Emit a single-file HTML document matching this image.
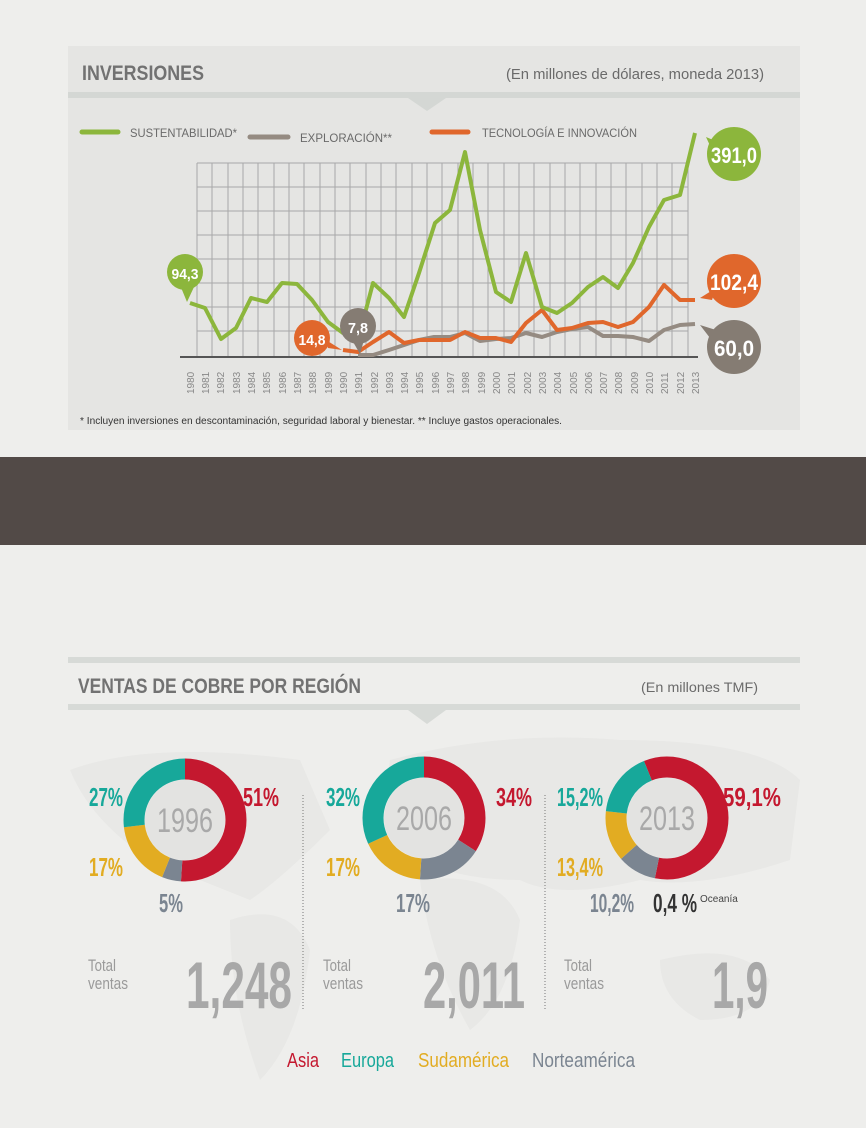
<!DOCTYPE html>
<html><head><meta charset="utf-8"><style>
html,body{margin:0;padding:0;background:#eeeeec;}
svg{display:block;font-family:"Liberation Sans",sans-serif;}
</style></head><body>
<svg width="866" height="1128" viewBox="0 0 866 1128" xmlns="http://www.w3.org/2000/svg">
<rect width="866" height="1128" fill="#eeeeec"/>
<rect x="68" y="46" width="732" height="384" fill="#e5e5e3"/>
<rect x="68" y="92" width="732" height="6" fill="#d4d7d4"/>
<polygon points="408,98 446,98 427,111" fill="#d4d7d4"/>
<text x="82" y="80" font-size="21" font-weight="bold" fill="#727272" textLength="122" lengthAdjust="spacingAndGlyphs">INVERSIONES</text>
<text x="506" y="79" font-size="15" fill="#6a6a6a" textLength="258" lengthAdjust="spacingAndGlyphs">(En millones de dólares, moneda 2013)</text>
<line x1="82" y1="132" x2="118" y2="132" stroke="#8cb63c" stroke-width="5" stroke-linecap="round"/>
<text x="130" y="137" font-size="12" fill="#6a6a6a" textLength="107" lengthAdjust="spacingAndGlyphs">SUSTENTABILIDAD*</text>
<line x1="250" y1="137" x2="288" y2="137" stroke="#958b82" stroke-width="5" stroke-linecap="round"/>
<text x="300" y="142" font-size="12" fill="#6a6a6a" textLength="92" lengthAdjust="spacingAndGlyphs">EXPLORACIÓN**</text>
<line x1="432" y1="132" x2="468" y2="132" stroke="#e0672c" stroke-width="5" stroke-linecap="round"/>
<text x="482" y="137" font-size="12" fill="#6a6a6a" textLength="155" lengthAdjust="spacingAndGlyphs">TECNOLOGÍA E INNOVACIÓN</text>
<g stroke="#a8a8a8" stroke-width="1" fill="none">
<path d="M197 163H688M197 187H688M197 211H688M197 235H688M197 259H688M197 283H688M197 307H688M197 331H688"/>
<path d="M197 163V357M212 163V357M228 163V357M243 163V357M258 163V357M274 163V357M289 163V357M304 163V357M320 163V357M335 163V357M350 163V357M366 163V357M381 163V357M396 163V357M412 163V357M427 163V357M442 163V357M458 163V357M473 163V357M488 163V357M504 163V357M519 163V357M534 163V357M550 163V357M565 163V357M580 163V357M596 163V357M611 163V357M626 163V357M642 163V357M657 163V357M672 163V357M688 163V357"/>
</g>
<line x1="180" y1="357" x2="698" y2="357" stroke="#555" stroke-width="2"/>
<g font-size="10" fill="#888">
<text transform="translate(194,394) rotate(-90)">1980</text>
<text transform="translate(209,394) rotate(-90)">1981</text>
<text transform="translate(224,394) rotate(-90)">1982</text>
<text transform="translate(240,394) rotate(-90)">1983</text>
<text transform="translate(255,394) rotate(-90)">1984</text>
<text transform="translate(270,394) rotate(-90)">1985</text>
<text transform="translate(286,394) rotate(-90)">1986</text>
<text transform="translate(301,394) rotate(-90)">1987</text>
<text transform="translate(316,394) rotate(-90)">1988</text>
<text transform="translate(332,394) rotate(-90)">1989</text>
<text transform="translate(347,394) rotate(-90)">1990</text>
<text transform="translate(362,394) rotate(-90)">1991</text>
<text transform="translate(378,394) rotate(-90)">1992</text>
<text transform="translate(393,394) rotate(-90)">1993</text>
<text transform="translate(408,394) rotate(-90)">1994</text>
<text transform="translate(423,394) rotate(-90)">1995</text>
<text transform="translate(439,394) rotate(-90)">1996</text>
<text transform="translate(454,394) rotate(-90)">1997</text>
<text transform="translate(469,394) rotate(-90)">1998</text>
<text transform="translate(485,394) rotate(-90)">1999</text>
<text transform="translate(500,394) rotate(-90)">2000</text>
<text transform="translate(515,394) rotate(-90)">2001</text>
<text transform="translate(531,394) rotate(-90)">2002</text>
<text transform="translate(546,394) rotate(-90)">2003</text>
<text transform="translate(561,394) rotate(-90)">2004</text>
<text transform="translate(577,394) rotate(-90)">2005</text>
<text transform="translate(592,394) rotate(-90)">2006</text>
<text transform="translate(607,394) rotate(-90)">2007</text>
<text transform="translate(622,394) rotate(-90)">2008</text>
<text transform="translate(638,394) rotate(-90)">2009</text>
<text transform="translate(653,394) rotate(-90)">2010</text>
<text transform="translate(668,394) rotate(-90)">2011</text>
<text transform="translate(684,394) rotate(-90)">2012</text>
<text transform="translate(699,394) rotate(-90)">2013</text>
</g>
<polyline fill="none" stroke="#958b82" stroke-width="4" stroke-linejoin="round" points="358,355 373,355 389,350 404,345 419,340 434,337 450,337 465,333 480,341 496,339 511,338 526,333 542,337 557,332 572,329 588,327 603,336 618,336 633,337 649,341 664,330 680,325 695,324"/>
<polyline fill="none" stroke="#e0672c" stroke-width="4" stroke-linejoin="round" points="343,350 358,352 373,342 389,332 404,343 419,340 434,340 450,340 465,332 480,338 496,338 511,342 526,323 542,310 557,330 572,328 588,323 603,322 618,327 633,322 649,307 664,285 680,300 695,300"/>
<polyline fill="none" stroke="#8cb63c" stroke-width="4" stroke-linejoin="round" points="190,303 205,308 221,339 236,328 251,298 267,302 282,283 297,284 312,300 328,322 343,333 358,340 373,283 389,298 404,317 419,273 435,223 450,210 465,152 480,230 496,292 511,302 526,253 542,307 557,313 572,303 588,287 603,277 618,288 633,263 649,227 664,200 680,195 695,133"/>
<g font-weight="bold" fill="#fff" text-anchor="middle">
<polygon points="706,137 712,150 718,142" fill="#8cb63c"/>
<circle cx="734" cy="154" r="27" fill="#8cb63c"/>
<text x="734" y="163" font-size="22" textLength="46" lengthAdjust="spacingAndGlyphs">391,0</text>
<polygon points="700,298 716,288 712,300" fill="#e0672c"/>
<circle cx="734" cy="281" r="27" fill="#e0672c"/>
<text x="734" y="290" font-size="22" textLength="48" lengthAdjust="spacingAndGlyphs">102,4</text>
<polygon points="700,325 716,330 710,338" fill="#857c73"/>
<circle cx="734" cy="347" r="27" fill="#857c73"/>
<text x="734" y="356" font-size="22" textLength="40" lengthAdjust="spacingAndGlyphs">60,0</text>
<polygon points="187,302 180,285 194,287" fill="#8cb63c"/>
<circle cx="185" cy="272" r="18" fill="#8cb63c"/>
<text x="185" y="279" font-size="15" textLength="27" lengthAdjust="spacingAndGlyphs">94,3</text>
<polygon points="342,350 326,340 328,348" fill="#e0672c"/>
<circle cx="312" cy="338" r="18" fill="#e0672c"/>
<text x="312" y="345" font-size="15" textLength="27" lengthAdjust="spacingAndGlyphs">14,8</text>
<polygon points="360,354 352,340 364,340" fill="#857c73"/>
<circle cx="358" cy="326" r="18" fill="#857c73"/>
<text x="358" y="333" font-size="15" textLength="20" lengthAdjust="spacingAndGlyphs">7,8</text>
</g>
<text x="80" y="424" font-size="10" fill="#333" textLength="482" lengthAdjust="spacingAndGlyphs">* Incluyen inversiones en descontaminación, seguridad laboral y bienestar. ** Incluye gastos operacionales.</text>
<rect x="0" y="457" width="866" height="88" fill="#524a47"/>
<rect x="68" y="657" width="732" height="6" fill="#d7dad7"/>
<rect x="68" y="704" width="732" height="6" fill="#d7dad7"/>
<polygon points="408,710 446,710 427,724" fill="#d7dad7"/>
<text x="78" y="693" font-size="21" font-weight="bold" fill="#727272" textLength="283" lengthAdjust="spacingAndGlyphs">VENTAS DE COBRE POR REGIÓN</text>
<text x="641" y="692" font-size="14" fill="#6a6a6a" textLength="117" lengthAdjust="spacingAndGlyphs">(En millones TMF)</text>
<g fill="#e8e8e6">
<path d="M70 770 Q150 740 300 760 L330 830 Q280 880 250 900 Q200 880 150 860 Q90 820 70 770Z"/>
<path d="M230 920 Q290 900 310 950 Q300 1040 260 1080 Q230 1000 230 920Z"/>
<path d="M390 760 Q500 730 620 740 Q760 740 800 780 L790 860 Q700 890 640 880 Q560 900 520 880 Q460 880 420 860 Q380 820 390 760Z"/>
<path d="M420 880 Q500 870 520 920 Q510 1000 470 1030 Q430 960 420 880Z"/>
<path d="M660 960 Q740 940 770 980 Q760 1020 700 1020 Q660 1000 660 960Z"/>
</g>
<g fill="none" stroke-width="21">
<g transform="translate(185,820) rotate(-90)">
<circle r="51" stroke="#c4182f" stroke-dasharray="163.4 400" stroke-dashoffset="0"/>
<circle r="51" stroke="#7b8591" stroke-dasharray="16 400" stroke-dashoffset="-163.4"/>
<circle r="51" stroke="#e2ac22" stroke-dasharray="54.5 400" stroke-dashoffset="-179.4"/>
<circle r="51" stroke="#17a89a" stroke-dasharray="86.6 400" stroke-dashoffset="-233.9"/>
</g>
<g transform="translate(424,818) rotate(-90)">
<circle r="51" stroke="#c4182f" stroke-dasharray="108.9 400" stroke-dashoffset="0"/>
<circle r="51" stroke="#7b8591" stroke-dasharray="54.5 400" stroke-dashoffset="-108.9"/>
<circle r="51" stroke="#e2ac22" stroke-dasharray="54.5 400" stroke-dashoffset="-163.4"/>
<circle r="51" stroke="#17a89a" stroke-dasharray="102.6 400" stroke-dashoffset="-217.9"/>
</g>
<g transform="translate(667,818) rotate(-112)">
<circle r="51" stroke="#c4182f" stroke-dasharray="189.6 400" stroke-dashoffset="0"/>
<circle r="51" stroke="#7b8591" stroke-dasharray="32.9 400" stroke-dashoffset="-189.6"/>
<circle r="51" stroke="#e2ac22" stroke-dasharray="42.7 400" stroke-dashoffset="-222.5"/>
<circle r="51" stroke="#17a89a" stroke-dasharray="55.3 400" stroke-dashoffset="-265.2"/>
</g>
</g>
<circle cx="185" cy="820" r="40" fill="#e3e3e1"/>
<circle cx="424" cy="818" r="40" fill="#e3e3e1"/>
<circle cx="667" cy="818" r="40" fill="#e3e3e1"/>
<g font-size="34" fill="#a9a9a9" text-anchor="middle">
<text x="185" y="832" textLength="56" lengthAdjust="spacingAndGlyphs">1996</text>
<text x="424" y="830" textLength="56" lengthAdjust="spacingAndGlyphs">2006</text>
<text x="667" y="830" textLength="56" lengthAdjust="spacingAndGlyphs">2013</text>
</g>
<g font-size="26" font-weight="bold">
<text x="89" y="806" fill="#17a89a" textLength="34" lengthAdjust="spacingAndGlyphs">27%</text>
<text x="243" y="806" fill="#c4182f" textLength="36" lengthAdjust="spacingAndGlyphs">51%</text>
<text x="89" y="876" fill="#e2ac22" textLength="34" lengthAdjust="spacingAndGlyphs">17%</text>
<text x="159" y="912" fill="#7b8591" textLength="24" lengthAdjust="spacingAndGlyphs">5%</text>
<text x="326" y="806" fill="#17a89a" textLength="34" lengthAdjust="spacingAndGlyphs">32%</text>
<text x="496" y="806" fill="#c4182f" textLength="36" lengthAdjust="spacingAndGlyphs">34%</text>
<text x="326" y="876" fill="#e2ac22" textLength="34" lengthAdjust="spacingAndGlyphs">17%</text>
<text x="396" y="912" fill="#7b8591" textLength="34" lengthAdjust="spacingAndGlyphs">17%</text>
<text x="557" y="806" fill="#17a89a" textLength="46" lengthAdjust="spacingAndGlyphs">15,2%</text>
<text x="723" y="806" fill="#c4182f" textLength="58" lengthAdjust="spacingAndGlyphs">59,1%</text>
<text x="557" y="876" fill="#e2ac22" textLength="46" lengthAdjust="spacingAndGlyphs">13,4%</text>
<text x="590" y="912" fill="#7b8591" textLength="44" lengthAdjust="spacingAndGlyphs">10,2%</text>
<text x="653" y="912" fill="#333" textLength="44" lengthAdjust="spacingAndGlyphs">0,4 %</text>
</g>
<text x="700" y="902" font-size="10" fill="#444">Oceanía</text>
<line x1="303" y1="795" x2="303" y2="1010" stroke="#777" stroke-dasharray="1 2"/>
<line x1="545" y1="795" x2="545" y2="1010" stroke="#777" stroke-dasharray="1 2"/>
<g font-size="17" fill="#9a9a9a">
<text x="88" y="971" textLength="28" lengthAdjust="spacingAndGlyphs">Total</text>
<text x="88" y="989" textLength="40" lengthAdjust="spacingAndGlyphs">ventas</text>
<text x="323" y="971" textLength="28" lengthAdjust="spacingAndGlyphs">Total</text>
<text x="323" y="989" textLength="40" lengthAdjust="spacingAndGlyphs">ventas</text>
<text x="564" y="971" textLength="28" lengthAdjust="spacingAndGlyphs">Total</text>
<text x="564" y="989" textLength="40" lengthAdjust="spacingAndGlyphs">ventas</text>
</g>
<g font-size="66" font-weight="bold" fill="#a8a8a8">
<text x="186" y="1008" textLength="106" lengthAdjust="spacingAndGlyphs">1,248</text>
<text x="423" y="1008" textLength="102" lengthAdjust="spacingAndGlyphs">2,011</text>
<text x="712" y="1008" textLength="56" lengthAdjust="spacingAndGlyphs">1,9</text>
</g>
<g font-size="20">
<text x="287" y="1067" fill="#c4182f" textLength="32" lengthAdjust="spacingAndGlyphs">Asia</text>
<text x="341" y="1067" fill="#17a89a" textLength="53" lengthAdjust="spacingAndGlyphs">Europa</text>
<text x="418" y="1067" fill="#e2ac22" textLength="91" lengthAdjust="spacingAndGlyphs">Sudamérica</text>
<text x="532" y="1067" fill="#7b8591" textLength="103" lengthAdjust="spacingAndGlyphs">Norteamérica</text>
</g>
</svg>
</body></html>
